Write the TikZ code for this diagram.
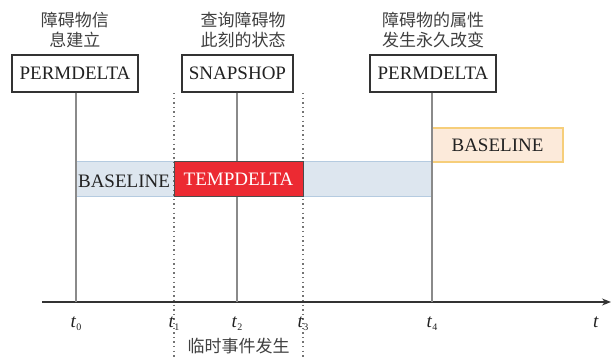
\documentclass[tikz,border=0pt]{standalone}
\usepackage{fontspec}
\setmainfont{Liberation Serif}
\newfontfamily\cjk{Noto Sans CJK SC}
\usetikzlibrary{arrows.meta}
\definecolor{bandfill}{HTML}{DDE6EF}
\definecolor{banddraw}{HTML}{B5CBE0}
\definecolor{tempred}{HTML}{EC2A32}
\definecolor{orfill}{HTML}{FCEADA}
\definecolor{ordraw}{HTML}{F6CE7A}
\definecolor{txt}{HTML}{222222}
\definecolor{gline}{HTML}{8A8A8A}
\newcommand{\tsub}[1]{\textit{t}\raisebox{-3pt}{\fontsize{10}{10}\selectfont #1}}
\tikzset{
  evbox/.style={draw=black!80, line width=1.2pt, fill=white, minimum height=37pt, inner xsep=4pt, font=\fontsize{19}{19}\selectfont, text=txt},
  cjklabel/.style={font=\cjk\fontsize{17}{20}\selectfont, text=black!75, align=center},
  tlab/.style={font=\fontsize{19}{19}\selectfont, text=txt},
  vline/.style={draw=gline, line width=1.2pt},
  dotline/.style={draw=black!55, line width=1.4pt, dash pattern=on 1.4pt off 3.2pt},
  tempstyle/.style={draw=black!70, fill=tempred, line width=1pt, minimum width=129pt, minimum height=35pt, inner sep=0pt, font=\fontsize{19}{19}\selectfont, text=white},
}
\begin{document}
\begin{tikzpicture}[x=1pt,y=-1pt]
\useasboundingbox (0,0) rectangle (614,358);
% bands
\node[draw=banddraw, fill=bandfill, line width=1pt, minimum width=356pt, minimum height=35pt, inner sep=0pt] (band) at (254,179.5) {};
\node[draw=ordraw, fill=orfill, line width=1.2pt, minimum width=131pt, minimum height=34pt, inner sep=0pt, font=\fontsize{19}{19}\selectfont, text=txt] (base2) at (497.5,145) {BASELINE};
\node[font=\fontsize{19}{19}\selectfont, text=txt] (base1) at (124,181) {BASELINE};
% boxes
\node[evbox, minimum width=126pt] (p1) at (75,73.5) {PERMDELTA};
\node[evbox, minimum width=111pt] (snap) at (237.5,73.5) {SNAPSHOP};
\node[evbox, minimum width=126pt] (p2) at (433,73.5) {PERMDELTA};
% labels above
\node[cjklabel] (l1) at (75,30) {障碍物信\\息建立};
\node[cjklabel] (l2) at (243,30) {查询障碍物\\此刻的状态};
\node[cjklabel] (l3) at (433,30) {障碍物的属性\\发生永久改变};
% axis
\coordinate (a0) at (42,302);
\coordinate (a1) at (611,302);
\draw[line width=1.3pt, draw=black!80, -{Stealth[length=9pt,width=7pt]}] (a0) -- (a1);
% time coordinates
\coordinate (x0) at (76,302);
\coordinate (x1) at (174,302);
\coordinate (x2) at (237,302);
\coordinate (x3) at (303,302);
\coordinate (x4) at (432,302);
\coordinate (d1top) at (174,93);
\coordinate (d1bot) at (174,358);
\coordinate (d3top) at (303,93);
\coordinate (d3bot) at (303,358);
\draw[vline] (p1.south -| x0) -- (x0);
\draw[vline] (snap.south -| x2) -- (x2);
\draw[vline] (p2.south -| x4) -- (x4);
\draw[dotline] (d1top) -- (d1bot);
\draw[dotline] (d3top) -- (d3bot);
\node[tempstyle] (temp) at (238.5,179.5) {TEMPDELTA};
% time labels
\node[tlab] (t0) at (76,324) {\tsub{0}};
\node[tlab] (t1) at (174,324) {\tsub{1}};
\node[tlab] (t2) at (237,324) {\tsub{2}};
\node[tlab] (t3) at (303,324) {\tsub{3}};
\node[tlab] (t4) at (432,324) {\tsub{4}};
\node[tlab] (tt) at (596,322) {\textit{t}};
\node[cjklabel] (ev) at (238.5,346) {临时事件发生};
\end{tikzpicture}
\end{document}
